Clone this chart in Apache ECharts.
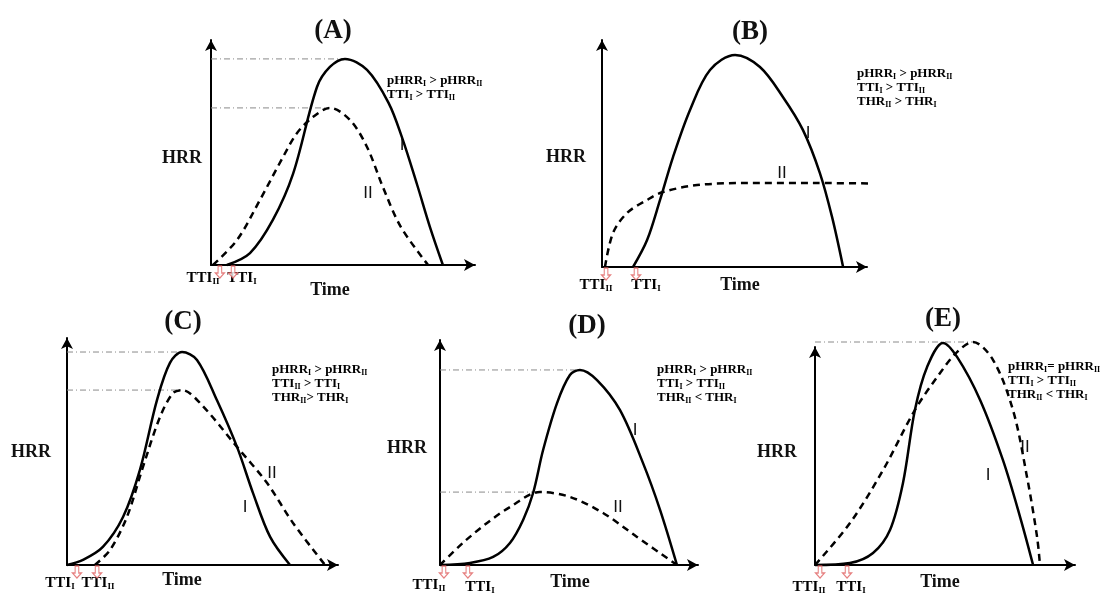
<!DOCTYPE html>
<html>
<head>
<meta charset="utf-8">
<script src="https://cdn.jsdelivr.net/npm/echarts@6/dist/echarts.min.js"></script>
<style>
  html, body { margin: 0; background: #fff; }
  #chart { width: 1107px; height: 594px; }
</style>
</head>
<body>
<div id="chart"></div>
<script>
// Each panel uses a 0-100 time scale and a 0-100 HRR scale (schematic units)
// [time, HRR]
const aCurveI = [[5.9,0],[14.5,5.2],[23.0,19.6],[30.5,39.6],[39.4,77.4],[44.2,86.1],[49.8,89.6],[58.0,84.8],[66.0,70.5],[71.0,55.5],[76.6,35.0],[81.4,16.5],[86.2,0]]
const aCurveII = [[0.7,0],[9.7,10.9],[18.2,28.3],[26.8,47.0],[32.0,57.4],[37.9,64.3],[44.2,68.3],[51.7,63.0],[58.0,51.3],[63.9,33.9],[70.6,16.5],[80.7,0]]

const bCurveI = [[11.5,0],[16.7,11.6],[21.5,28.9],[26.3,47.4],[32.6,67.7],[40.0,84.9],[49.3,91.4],[58.5,86.2],[67.0,73.3],[74.4,59.1],[80.7,40.5],[85.2,21.6],[89.3,0]]
const bCurveII = [[1.1,0],[4.1,14.7],[9.3,23.3],[16.7,28.9],[22.6,32.3],[35.2,35.3],[53.7,36.2],[78.1,36.2],[112.2,35.8]]

const cCurveI = [[0,0],[5.8,2.2],[13.0,7.8],[20.3,20.7],[26.4,40.9],[32.6,71.1],[37.3,87.1],[41.7,91.8],[47.1,88.4],[54.3,71.1],[61.6,50.9],[67.4,31.0],[73.6,12.1],[80.8,0]]
const cCurveII = [[10.1,0],[15.6,6.5],[21.7,20.7],[27.5,42.2],[33.7,63.8],[38.4,74.1],[41.7,75.4],[48.2,69.8],[61.6,50.9],[72.5,35.3],[81.9,18.1],[93.5,0]]

const dCurveI = [[0,0],[11.4,0.9],[20.2,3.5],[26.6,9.6],[31.6,19.6],[35.4,31.3],[39.2,50.0],[44.5,70.4],[49.4,82.6],[53.2,84.8],[59.7,80.4],[68.4,67.4],[77.2,44.3],[83.7,23.9],[90.1,0]]
const dCurveII = [[0,0],[8.7,9.6],[17.9,18.3],[26.6,25.2],[38.0,31.7],[49.4,29.6],[62.0,22.6],[74.9,12.2],[90.1,0]]

const eCurveI = [[0,0],[13.2,0.9],[21.9,5.4],[28.3,15.7],[33.2,36.8],[37.7,69.5],[42.3,88.8],[48.3,99.6],[53.6,93.3],[62.3,74.0],[70.9,47.1],[77.4,21.5],[82.3,0]]
const eCurveII = [[0,0],[13.2,18.8],[25.7,42.6],[37.7,69.5],[47.2,86.1],[53.6,95.5],[59.6,100],[67.2,91.9],[74.7,69.5],[80.0,39.5],[83.8,12.6],[84.9,0]]

// time to ignition markers (arrows under the time axis)
const aTTI = [3.3, 8.2]
const bTTI = [1.5, 12.6]
const cTTI = [3.6, 10.9]
const dTTI = [1.5, 10.6]
const eTTI = [1.9, 12.1]

// --- layout (pixel boxes measured to the arrow tips) ---
const panels = [
  { box: [211, 35, 269, 230], I: aCurveI, II: aCurveII, refs: ['I', 'II'], tti: aTTI },
  { box: [602, 35, 270, 232], I: bCurveI, II: bCurveII, refs: [], tti: bTTI },
  { box: [67, 333, 276, 232], I: cCurveI, II: cCurveII, refs: ['I', 'II'], tti: cTTI },
  { box: [440, 335, 263, 230], I: dCurveI, II: dCurveII, refs: ['I', 'II'], tti: dTTI },
  { box: [815, 342, 265, 223], I: eCurveI, II: eCurveII, refs: ['II'], tti: eTTI }
]

const SERIF = '"Liberation Serif", "Times New Roman", serif'
const SANS = '"Liberation Sans", Arial, sans-serif'
const TIP = 5
const arrowPath = 'path://M3,0 L7,0 L7,7 L10,7 L5,12 L0,7 L3,7 Z'

function peakOf(curve) {
  return curve.reduce((m, p) => (p[1] > m[1] ? p : m), curve[0])
}

const grids = [], xAxes = [], yAxes = [], series = []

panels.forEach((p, i) => {
  const [l, t, w, h] = p.box
  grids.push({ left: l, top: t + TIP, width: w - TIP, height: h - TIP })
  const axisBase = {
    type: 'value', gridIndex: i, min: 0,
    axisLine: { show: true, onZero: false, symbol: ['none', 'arrow'], symbolSize: [9, 11], lineStyle: { color: '#000', width: 2 } },
    axisTick: { show: false }, axisLabel: { show: false }, splitLine: { show: false }
  }
  xAxes.push({ ...axisBase, max: 100 * (w - TIP) / w })
  yAxes.push({ ...axisBase, max: 100 * (h - TIP) / h })

  // peak reference lines
  p.refs.forEach(k => {
    const pk = peakOf(p[k])
    series.push({
      type: 'line', xAxisIndex: i, yAxisIndex: i, data: [[0, pk[1]], [pk[0], pk[1]]],
      symbol: 'none', silent: true, clip: false, z: 1,
      lineStyle: { color: '#8a8a8a', width: 1, type: [6, 3, 1, 3] }
    })
  })

  const curve = {
    type: 'line', xAxisIndex: i, yAxisIndex: i, smooth: 0.33,
    symbol: 'none', silent: true, clip: false, z: 3
  }
  series.push({ ...curve, data: p.I, lineStyle: { color: '#000', width: 2.5 } })
  series.push({ ...curve, data: p.II, lineStyle: { color: '#000', width: 2.5, type: [7, 5] } })
  series.push({
    type: 'scatter', xAxisIndex: i, yAxisIndex: i, data: p.tti.map(x => [x, 0]),
    symbol: arrowPath, symbolSize: [9, 12], symbolOffset: [0, 7], clip: false, silent: true, z: 5,
    itemStyle: { color: '#fff', borderColor: '#e06060', borderWidth: 1.2 }
  })
})

// --- text ---
const rich = {
  b: { fontFamily: SERIF, fontWeight: 'bold', fontSize: 13, lineHeight: 14, color: '#111' },
  s: { fontFamily: SERIF, fontWeight: 'bold', fontSize: 8, lineHeight: 14, verticalAlign: 'bottom', color: '#111' },
  t: { fontFamily: SERIF, fontWeight: 'bold', fontSize: 15, lineHeight: 17, color: '#111' },
  u: { fontFamily: SERIF, fontWeight: 'bold', fontSize: 9, lineHeight: 17, verticalAlign: 'bottom', color: '#111' }
}

function txt(x, y, text, font, align) {
  return { type: 'text', x: x, y: y, silent: true,
    style: { text: text, font: font, fill: '#111', textAlign: align || 'center', textVerticalAlign: 'middle' } }
}
function note(x, y, text) {
  return { type: 'text', x: x, y: y, silent: true,
    style: { text: text, rich: rich, textAlign: 'left', textVerticalAlign: 'top' } }
}
function tti(x, y, sub) {
  return { type: 'text', x: x, y: y, silent: true,
    style: { text: '{t|TTI}{u|' + sub + '}', rich: rich, textAlign: 'center', textVerticalAlign: 'middle' } }
}

const TITLE = 'bold 27px ' + SERIF
const AXN = 'bold 18px ' + SERIF
const CURVE = '17px ' + SANS

const graphics = [
  // A
  txt(333, 31, '(A)', TITLE), txt(162, 158, 'HRR', AXN, 'left'), txt(330, 290, 'Time', AXN),
  note(387, 74, '{b|pHRR}{s|I}{b| > pHRR}{s|II}\n{b|TTI}{s|I}{b| > TTI}{s|II}'),
  txt(402, 145, 'I', CURVE), txt(368, 193, 'II', CURVE),
  tti(203, 278, 'II'), tti(242, 278, 'I'),
  // B
  txt(750, 32, '(B)', TITLE), txt(546, 157, 'HRR', AXN, 'left'), txt(740, 285, 'Time', AXN),
  note(857, 67, '{b|pHRR}{s|I}{b| > pHRR}{s|II}\n{b|TTI}{s|I}{b| > TTI}{s|II}\n{b|THR}{s|II}{b| > THR}{s|I}'),
  txt(808, 133, 'I', CURVE), txt(782, 173, 'II', CURVE),
  tti(596, 285, 'II'), tti(646, 285, 'I'),
  // C
  txt(183, 322, '(C)', TITLE), txt(11, 452, 'HRR', AXN, 'left'), txt(182, 580, 'Time', AXN),
  note(272, 363, '{b|pHRR}{s|I}{b| > pHRR}{s|II}\n{b|TTI}{s|II}{b| > TTI}{s|I}\n{b|THR}{s|II}{b|> THR}{s|I}'),
  txt(272, 473, 'II', CURVE), txt(245, 507, 'I', CURVE),
  tti(60, 583, 'I'), tti(98, 583, 'II'),
  // D
  txt(587, 326, '(D)', TITLE), txt(387, 448, 'HRR', AXN, 'left'), txt(570, 582, 'Time', AXN),
  note(657, 363, '{b|pHRR}{s|I}{b| > pHRR}{s|II}\n{b|TTI}{s|I}{b| > TTI}{s|II}\n{b|THR}{s|II}{b| < THR}{s|I}'),
  txt(635, 430, 'I', CURVE), txt(618, 507, 'II', CURVE),
  tti(429, 585, 'II'), tti(480, 587, 'I'),
  // E
  txt(943, 319, '(E)', TITLE), txt(757, 452, 'HRR', AXN, 'left'), txt(940, 582, 'Time', AXN),
  note(1008, 360, '{b|pHRR}{s|I}{b|= pHRR}{s|II}\n{b|TTI}{s|I}{b| > TTI}{s|II}\n{b|THR}{s|II}{b| < THR}{s|I}'),
  txt(1025, 447, 'II', CURVE), txt(988, 475, 'I', CURVE),
  tti(809, 587, 'II'), tti(851, 587, 'I')
]

const chart = echarts.init(document.getElementById('chart'))
chart.setOption({
  backgroundColor: '#fff',
  animation: false,
  grid: grids,
  xAxis: xAxes,
  yAxis: yAxes,
  series: series,
  graphic: { elements: graphics }
})
</script>
</body>
</html>
